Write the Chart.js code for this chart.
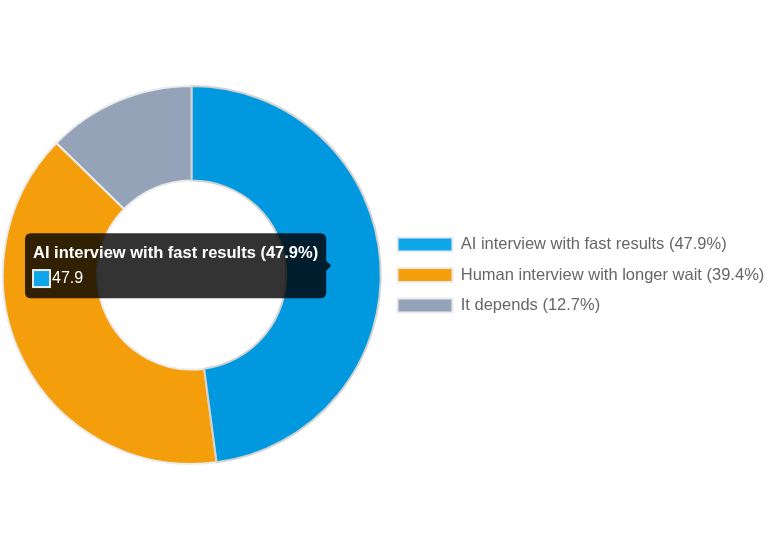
<!DOCTYPE html>
<html>
<head>
<meta charset="utf-8">
<script src="https://cdn.jsdelivr.net/npm/chart.js@4"></script>
<style>
  html, body { margin: 0; padding: 0; background: #ffffff; }
  #wrap { width: 767px; height: 550px; }
</style>
</head>
<body>
<div id="wrap"><canvas id="pieChart"></canvas></div>
<script>
const labels = [
    'AI interview with fast results (47.9%)',
    'Human interview with longer wait (39.4%)',
    'It depends (12.7%)'
];
const values = [47.9, 39.4, 12.7];
const colors = ['#0ea5e9', '#f59e0b', '#94a3b8'];

const ctx = document.getElementById('pieChart').getContext('2d');

const chart = new Chart(ctx, {
    type: 'doughnut',
    data: {
        labels: labels,
        datasets: [{
            data: values,
            backgroundColor: colors,
            borderColor: '#ebebeb',
            borderWidth: 2
        }]
    },
    options: {
        responsive: true,
        maintainAspectRatio: false,
        animation: false,
        cutout: '50%',
        layout: {
            padding: { top: 85, bottom: 85 }
        },
        plugins: {
            legend: {
                position: 'right',
                labels: {
                    boxWidth: 55,
                    boxHeight: 14,
                    padding: 14,
                    color: '#666666',
                    font: { family: "'Liberation Sans', Arial, sans-serif", size: 16.5 }
                }
            },
            tooltip: {
                backgroundColor: 'rgba(0, 0, 0, 0.8)',
                padding: { top: 10, bottom: 10, left: 8, right: 8 },
                titleFont: { family: "'Liberation Sans', Arial, sans-serif", size: 16.5, weight: 'bold' },
                bodyFont: { family: "'Liberation Sans', Arial, sans-serif", size: 16 },
                titleMarginBottom: 6,
                boxWidth: 17,
                boxHeight: 17,
                callbacks: {
                    title: items => items[0].label,
                    label: item => item.formattedValue
                }
            }
        }
    }
});

// show the tooltip on the first slice like the reference
const active = [{ datasetIndex: 0, index: 0 }];
const arc = chart.getDatasetMeta(0).data[0].tooltipPosition();
chart.setActiveElements(active);
chart.tooltip.setActiveElements(active, arc);
chart.update();
</script>
</body>
</html>
